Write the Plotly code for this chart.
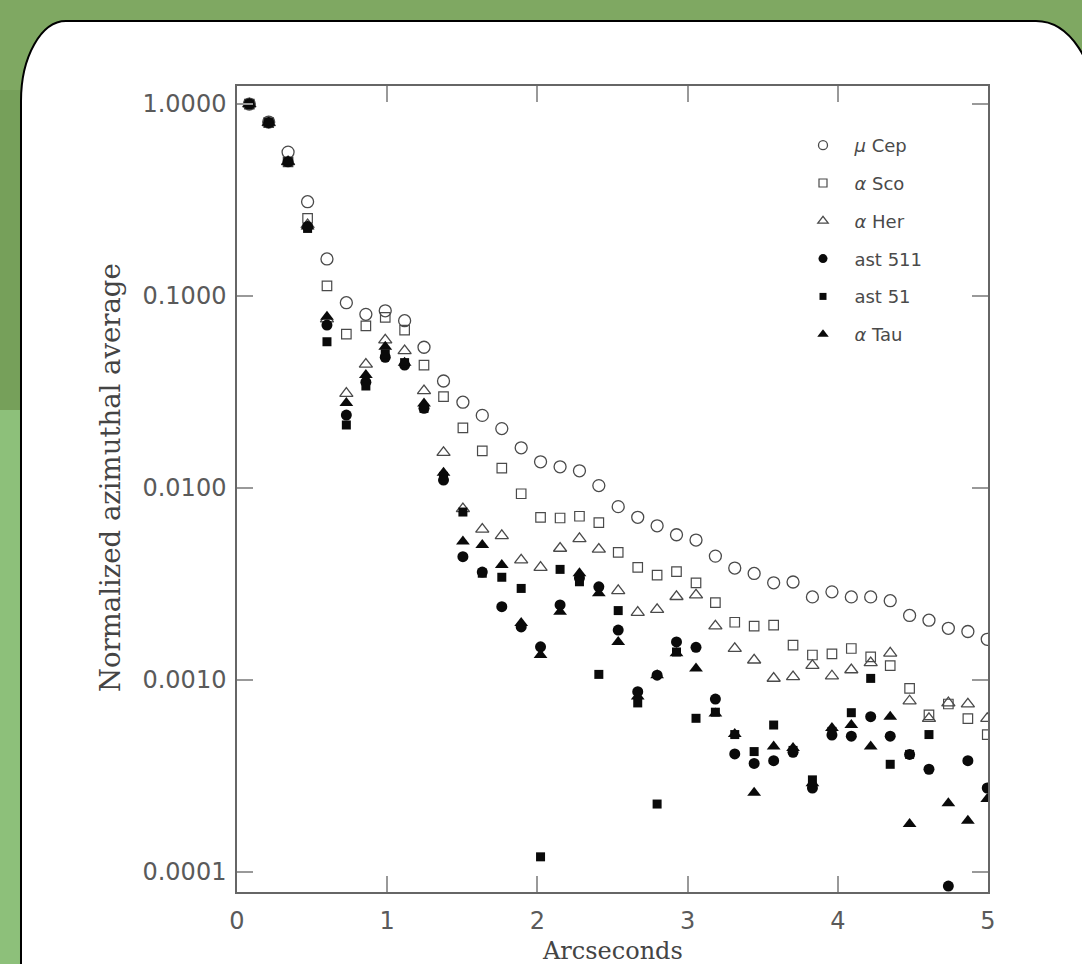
import plotly.graph_objects as go

# ---------------- data ----------------
radius_arcsec = [0.082, 0.211, 0.340, 0.470, 0.599, 0.728, 0.858, 0.987, 1.116, 1.245,
                 1.375, 1.504, 1.633, 1.763, 1.892, 2.021, 2.151, 2.280, 2.409, 2.538,
                 2.668, 2.797, 2.926, 3.056, 3.185, 3.314, 3.443, 3.573, 3.702, 3.831,
                 3.961, 4.090, 4.219, 4.349, 4.478, 4.607, 4.736, 4.866, 4.995]

mu_cep = [1.0, 0.806, 0.562, 0.310, 0.156, 0.0923, 0.0803, 0.0838, 0.0744, 0.0541,
          0.0361, 0.0280, 0.0239, 0.0204, 0.0162, 0.0137, 0.0129, 0.0123, 0.0103, 0.0080,
          0.00704, 0.00636, 0.00571, 0.00536, 0.00442, 0.00383, 0.00359, 0.00321, 0.00324, 0.00271,
          0.00288, 0.00271, 0.00271, 0.00259, 0.00217, 0.00205, 0.00186, 0.00179, 0.00163]

alpha_sco = [1.0, 0.80, 0.50, 0.254, 0.113, 0.0634, 0.070, 0.0775, 0.0665, 0.0437,
             0.0299, 0.0206, 0.0156, 0.0127, 0.00934, 0.00703, 0.00698, 0.00713, 0.0066, 0.00462,
             0.00386, 0.00352, 0.00367, 0.00321, 0.00253, 0.0020, 0.00191, 0.00193, 0.00152, 0.00135,
             0.00137, 0.00146, 0.00132, 0.00119, 0.000905, 0.000658, 0.00075, 0.00063, 0.00052]

alpha_her = [1.0, 0.80, 0.50, 0.235, 0.076, 0.0311, 0.0441, 0.059, 0.0519, 0.0321,
             0.0153, 0.0078, 0.0061, 0.00565, 0.00422, 0.00386, 0.00485, 0.00545, 0.0048, 0.00292,
             0.00225, 0.00233, 0.00272, 0.00277, 0.00191, 0.00146, 0.00127, 0.00102, 0.00104, 0.00119,
             0.00105, 0.00113, 0.00123, 0.00138, 0.000778, 0.00063, 0.00076, 0.00075, 0.00063]

ast_511 = [1.0, 0.80, 0.50, 0.23, 0.0706, 0.024, 0.0356, 0.048, 0.0437, 0.026,
           0.0110, 0.00439, 0.00365, 0.00241, 0.00189, 0.00149, 0.00246, 0.0034, 0.00306, 0.00182,
           0.00087, 0.00106, 0.00158, 0.00148, 0.000796, 0.000412, 0.000368, 0.00038, 0.00042, 0.000274,
           0.000517, 0.00051, 0.000644, 0.00051, 0.00041, 0.000343, 0.0000845, 0.00038, 0.000274]

ast_51 = [1.0, 0.80, 0.50, 0.225, 0.0578, 0.0213, 0.034, 0.050, 0.045, 0.026,
          0.0115, 0.0075, 0.0036, 0.00343, 0.0030, 0.000120, 0.00377, 0.00325, 0.00107, 0.0023,
          0.00076, 0.000226, 0.0014, 0.000632, 0.00068, 0.00052, 0.000424, 0.000583, 0.00043, 0.000302,
          0.00054, 0.000676, 0.00102, 0.000364, 0.00041, 0.00052, None, None, None]

alpha_tau = [1.0, 0.80, 0.50, 0.23, 0.078, 0.0277, 0.0388, 0.0544, 0.045, 0.0276,
             0.0120, 0.00526, 0.00505, 0.00397, 0.00198, 0.00135, 0.00227, 0.0036, 0.00283, 0.00158,
             0.00082, 0.00106, 0.00138, 0.00115, 0.00067, 0.000523, 0.000259, 0.00045, 0.000443, 0.00029,
             0.000562, 0.000583, 0.00045, 0.000644, 0.000178, None, 0.000228, 0.000185, 0.00024]

series_names = ["<i>μ</i> Cep", "<i>α</i> Sco", "<i>α</i> Her", "ast 511", "ast 51", "<i>α</i> Tau"]
series_values = [mu_cep, alpha_sco, alpha_her, ast_511, ast_51, alpha_tau]

x_ticks = [0, 1, 2, 3, 4, 5]
x_tick_labels = ["0", "1", "2", "3", "4", "5"]
y_ticks = [1.0, 0.1, 0.01, 0.001, 0.0001]
y_tick_labels = ["1.0000", "0.1000", "0.0100", "0.0010", "0.0001"]

# ---------------- styles ----------------
OPEN = "#4a4a4a"
FILL = "#0a0a0a"
styles = [
    dict(symbol="circle-open", size=12, color=OPEN, line=dict(width=1.3, color=OPEN)),
    dict(symbol="square-open", size=9.5, color=OPEN, line=dict(width=1.2, color=OPEN)),
    dict(symbol="triangle-up-open", size=11.5, color=OPEN, line=dict(width=1.3, color=OPEN)),
    dict(symbol="circle", size=11, color=FILL, line=dict(width=0)),
    dict(symbol="square", size=9, color=FILL, line=dict(width=0)),
    dict(symbol="triangle-up", size=12, color=FILL, line=dict(width=0)),
]
legend_sizes = [9, 8, 9, 9, 7, 10]

W, H = 1082, 964
L, R, T, B = 237, 988, 86, 892

fig = go.Figure()
for name, vals, st in zip(series_names, series_values, styles):
    fig.add_trace(go.Scatter(x=radius_arcsec, y=vals, mode="markers", marker=st,
                             showlegend=False, hoverinfo="x+y", name=name))

for i, (name, st) in enumerate(zip(series_names, styles)):
    lst = dict(st)
    lst["size"] = legend_sizes[i]
    fig.add_trace(go.Scatter(x=[None], y=[None], mode="markers", marker=lst,
                             name="\u00a0\u00a0" + name, legendgroup="g%d" % i, showlegend=True))


def pp(x, y):
    return "%.5f,%.5f" % ((x - L) / (R - L), (B - y) / (B - T))


k = 0.5523
lx, top, rx_edge = 21, 21, 1096
rxl, ryl = 45, 80
rxr, ryr = 60, 90
path = ("M" + pp(lx, 1010) + " L" + pp(lx, top + ryl) +
        " C" + pp(lx, top + ryl - ryl * k) + " " + pp(lx + rxl - rxl * k, top) + " " + pp(lx + rxl, top) +
        " L" + pp(rx_edge - rxr, top) +
        " C" + pp(rx_edge - rxr + rxr * k, top) + " " + pp(rx_edge, top + ryr - ryr * k) + " " + pp(rx_edge, top + ryr) +
        " L" + pp(rx_edge, 1010) + " Z")

shapes = [
    dict(type="rect", xref="paper", yref="paper",
         x0=(0 - L) / (R - L), x1=(40 - L) / (R - L), y0=(B - 1000) / (B - T), y1=(B - 410) / (B - T),
         fillcolor="#8dc07a", line=dict(width=0), layer="below"),
    dict(type="rect", xref="paper", yref="paper",
         x0=(0 - L) / (R - L), x1=(40 - L) / (R - L), y0=(B - 410) / (B - T), y1=(B - 90) / (B - T),
         fillcolor="#76a05a", line=dict(width=0), layer="below"),
    dict(type="path", xref="paper", yref="paper", path=path,
         fillcolor="white", line=dict(color="black", width=2), layer="below"),
]

tickfont = dict(family="DejaVu Sans", size=24, color="#5a5a5a")

fig.update_layout(
    width=W, height=H,
    margin=dict(l=L, r=W - R, t=T, b=H - B, autoexpand=False),
    paper_bgcolor="#7fa862",
    plot_bgcolor="rgba(0,0,0,0)",
    shapes=shapes,
    showlegend=True,
    legend=dict(x=(803 - L) / (R - L), y=(B - 127) / (B - T), xanchor="left", yanchor="top",
                bgcolor="rgba(0,0,0,0)", borderwidth=0, tracegroupgap=11.4,
                font=dict(family="DejaVu Sans", size=18, color="#4a4a4a"),
                itemsizing="trace"),
    xaxis=dict(range=[0, 5], tickmode="array", tickvals=x_ticks, ticktext=x_tick_labels,
               ticks="inside", ticklen=16, tickwidth=1.5, tickcolor="#999999",
               showline=True, linecolor="#666666", linewidth=1.5, mirror="ticks",
               showgrid=False, zeroline=False, tickfont=tickfont, ticklabelstandoff=6),
    yaxis=dict(type="log", range=[-4.104, 0.094], tickmode="array", tickvals=y_ticks,
               ticktext=y_tick_labels,
               ticks="inside", ticklen=16, tickwidth=1.5, tickcolor="#999999",
               showline=True, linecolor="#666666", linewidth=1.5, mirror="ticks",
               showgrid=False, zeroline=False, tickfont=tickfont, ticklabelstandoff=4),
    annotations=[
        dict(text="Arcseconds", xref="paper", yref="paper", x=(612 - L) / (R - L), y=(B - 951) / (B - T),
             xanchor="center", yanchor="middle", showarrow=False,
             font=dict(family="DejaVu Serif", size=24, color="#444444")),
        dict(text="Normalized azimuthal average", xref="paper", yref="paper",
             x=(110 - L) / (R - L), y=(B - 478) / (B - T), textangle=-90,
             xanchor="center", yanchor="middle", showarrow=False,
             font=dict(family="DejaVu Serif", size=27.5, color="#444444")),
    ],
)

fig.write_html("out.html", config={"displayModeBar": False},
               post_script="document.body.style.margin='0';document.body.style.overflow='hidden';")
